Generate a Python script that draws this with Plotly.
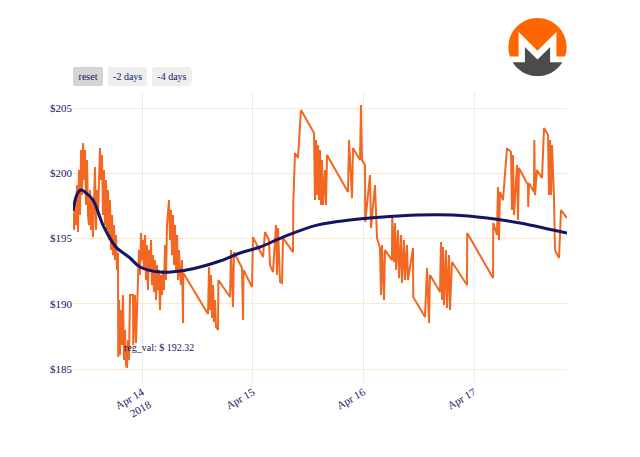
import base64
import pandas as pd
import plotly.graph_objects as go

# ---- data -------------------------------------------------------------
BASE_DATE = "2018-04-13"

# hours since BASE_DATE 00:00, Monero price in USD
price_hours = [
    9.04, 9.26, 9.47, 9.69, 9.91, 10.12, 10.34, 10.56, 10.78, 10.99, 11.21, 11.43, 11.64, 11.86,
    12.08, 12.29, 12.51, 12.73, 12.94, 13.16, 13.38, 13.59, 13.81, 14.03, 14.24, 14.46, 14.68,
    14.89, 15.11, 15.33, 15.54, 15.76, 15.98, 16.20, 16.41, 16.63, 16.85, 17.06, 17.28, 17.50,
    17.71, 17.93, 18.15, 18.36, 18.58, 18.80, 18.85,
    19.01, 19.23, 19.45, 19.66, 19.88, 20.10, 20.31, 20.53, 20.75, 20.96, 21.18, 21.40, 22.05,
    22.10, 22.48, 22.70, 22.92, 23.13, 23.35, 23.57, 23.78, 24.00, 24.22,
    24.43, 24.65, 24.87, 25.08, 25.30, 25.52, 25.73, 25.95, 26.17, 26.38, 26.60, 26.82, 27.04,
    27.25, 27.47, 27.69, 27.90, 28.12, 28.34, 28.55, 28.77, 28.99, 29.20, 29.42, 29.64, 29.85,
    30.07, 30.29, 30.50, 30.72, 30.94, 31.15, 31.37, 31.59, 31.80, 32.02, 32.24, 32.46, 32.67,
    32.89, 32.95,
    38.31, 38.53, 38.74, 38.96, 39.18, 39.39, 39.61, 39.83, 40.04, 40.48, 40.55, 43.08, 43.30,
    43.73, 43.94, 45.68, 45.90, 46.00, 47.85,
    48.06, 50.23, 50.67, 51.53, 51.75, 52.40, 53.05, 53.27, 53.49, 53.92, 54.35, 54.57, 56.74,
    56.80, 57.17, 57.82, 58.47, 61.29,
    61.51, 61.72, 61.94, 62.16, 62.37, 62.59, 62.81, 63.02, 63.24, 63.67, 63.89, 64.11, 68.66,
    68.88, 69.53, 69.74, 71.26, 71.48, 71.70, 72.35, 72.40, 73.43, 73.65, 74.51, 74.95, 75.60,
    75.81, 76.03, 76.47, 76.68, 78.20, 78.25,
    78.63, 78.85, 79.07, 79.50, 79.72, 80.15, 80.37, 80.80, 81.02, 81.45, 81.67, 82.75, 82.80,
    85.35, 85.79, 86.22, 86.44, 88.61, 88.82, 89.04, 89.26, 89.47, 89.91, 90.12, 90.56, 90.77,
    91.21, 94.46, 94.50, 100.10,
    100.15, 100.96, 101.18, 101.40, 101.61, 102.26, 103.13, 104.00, 104.21, 104.43, 104.65,
    105.30, 105.52, 105.73, 107.68, 107.73, 107.90, 108.99, 109.05, 109.20, 109.64, 110.72,
    111.16, 112.02, 112.24, 112.46, 112.67, 112.89, 113.32, 113.54, 114.41, 114.84, 116.14,
]
price_usd = [
    196.95, 195.65, 197.95, 196.03, 199.10, 195.50, 200.25, 196.80, 201.78, 198.33, 202.32, 199.48,
    201.78, 197.57, 201.01, 196.80, 196.03, 198.72, 195.65, 197.95, 195.11, 199.10, 200.48, 195.65,
    198.72, 196.80, 201.01, 201.93, 199.48, 201.40, 196.80, 200.25, 196.03, 199.48, 195.65, 198.72,
    194.88, 197.95, 194.12, 196.80, 193.73, 196.03, 193.35, 195.27, 192.59, 193.89, 185.92,
    190.29, 186.07, 189.52, 186.84, 190.67, 185.69, 187.99, 185.31, 185.08, 187.22, 185.69, 190.67,
    190.67, 186.84, 190.67, 186.99, 190.29, 191.82, 194.12, 192.20, 195.42, 193.35, 194.88,
    192.59, 195.27, 191.82, 194.50, 191.05, 194.12, 192.59, 194.88, 191.44, 193.73, 190.90, 193.35,
    190.29, 192.97, 191.05, 192.59, 189.52, 192.20, 190.67, 192.59, 191.05, 194.50, 191.82, 196.03,
    197.57, 197.95, 194.88, 197.18, 193.73, 196.80, 192.97, 196.03, 192.59, 195.27, 191.82, 194.12,
    192.36, 191.44, 193.35, 188.53, 192.36,
    189.21, 192.82, 189.52, 192.20, 188.91, 191.44, 188.60, 190.29, 188.22, 187.99, 191.82, 190.52,
    194.12, 189.75, 193.96, 192.74, 188.76, 192.59, 191.28,
    195.11, 193.58, 195.50, 194.88, 192.97, 192.43, 196.03, 192.20, 195.80, 191.67, 191.59, 195.04,
    193.96, 197.72, 201.55, 201.17, 204.85, 203.08,
    197.95, 202.55, 198.33, 202.16, 197.95, 201.78, 197.57, 201.01, 197.57, 200.25, 197.57, 201.40,
    198.56, 202.55, 198.10, 201.93, 201.01, 205.23, 201.01, 200.63, 196.26, 199.87, 195.80, 199.10,
    195.04, 194.27, 190.67, 194.50, 190.29, 194.12, 193.35, 196.80,
    193.20, 196.19, 192.59, 195.65, 191.97, 195.27, 191.59, 194.88, 191.82, 194.50, 191.82, 194.27,
    190.52, 188.98, 192.74, 188.53, 192.20, 190.90, 194.73, 190.29, 194.35, 189.90, 194.12, 189.67,
    193.73, 189.52, 193.20, 191.44, 195.42, 191.97,
    196.19, 195.27, 198.95, 194.88, 198.56, 197.95, 201.93, 201.63, 197.18, 201.40, 196.80, 200.63,
    196.42, 200.40, 199.10, 197.41, 199.25, 198.56, 202.55, 198.33, 200.25, 199.64, 203.47, 202.93,
    198.33, 202.55, 198.33, 202.16, 198.10, 194.12, 193.51, 197.18, 196.57,
]

# regression curve
reg_hours = [9.04, 9.69, 10.34, 10.99, 11.86, 13.38, 15.54, 17.71, 18.58, 21.40, 23.57, 27.90,
             32.24, 36.57, 40.91, 45.25, 49.58, 54.57, 61.94, 69.09, 76.25, 83.62, 91.42, 98.80,
             105.95, 113.10, 116.14]
reg_usd = [197.11, 198.18, 198.64, 198.71, 198.49, 197.95, 196.03, 194.65, 194.27, 193.51, 192.82,
           192.43, 192.51, 192.82, 193.28, 193.89, 194.35, 195.11, 196.03, 196.42, 196.65, 196.80,
           196.80, 196.57, 196.19, 195.65, 195.42]

reg_label_hour = 27.69
reg_label_usd = 186.68
reg_label_text = "reg_val: $ 192.32"

y_ticks = [185, 190, 195, 200, 205]
y_tick_labels = ["$185", "$190", "$195", "$200", "$205"]

# ---- figure -----------------------------------------------------------
base = pd.Timestamp(BASE_DATE)
price_t = base + pd.to_timedelta(price_hours, unit="h")
reg_t = base + pd.to_timedelta(reg_hours, unit="h")

NAVY = "#141466"
ORANGE = "#F26822"
FONT = "Liberation Serif, Times New Roman, serif"

fig = go.Figure()
fig.add_trace(go.Scatter(x=price_t, y=price_usd, mode="lines",
                         line=dict(color=ORANGE, width=2), name="XMR", showlegend=False))
fig.add_trace(go.Scatter(x=reg_t, y=reg_usd, mode="lines",
                         line=dict(color=NAVY, width=3, shape="spline"),
                         name="regression", showlegend=False))

fig.add_annotation(x=base + pd.Timedelta(hours=reg_label_hour), y=reg_label_usd,
                   text=reg_label_text, showarrow=False,
                   font=dict(family=FONT, size=10, color=NAVY))

svg = ('<svg xmlns="http://www.w3.org/2000/svg" viewBox="0 0 256 256">'
       '<path fill="#FF6600" d="M127.998 0C57.318 0 0 57.317 0 127.993c0 14.127 2.29 27.716 '
       '6.518 40.43H44.8V60.733l83.2 83.198 83.197-83.2v107.69h38.285c4.236-12.71 6.518-26.3 '
       '6.518-40.427C256 57.317 198.681 0 127.998 0"/>'
       '<path fill="#4C4C4C" d="M108.867 163.062l-36.31-36.311v67.765H18.623c22.47 36.863 '
       '63.051 61.48 109.373 61.48s86.907-24.617 109.374-61.48h-53.933V126.75l-36.31 '
       '36.31-19.13 19.129-19.128-19.128h-.002z"/></svg>')
logo_src = "data:image/svg+xml;base64," + base64.b64encode(svg.encode()).decode()
fig.add_layout_image(source=logo_src, xref="paper", yref="paper", x=1.0, y=1.254,
                     sizex=0.1194, sizey=0.2, xanchor="right", yanchor="top",
                     sizing="contain", layer="above")

fig.update_layout(
    width=640, height=457,
    margin=dict(l=65, r=81, t=84, b=82),
    paper_bgcolor="white", plot_bgcolor="white",
    font=dict(family=FONT, size=11, color=NAVY),
    showlegend=False,
    xaxis=dict(
        autorange=True, tickangle=-30, showgrid=True, gridcolor="#EBEBEB",
        zeroline=False, showline=False,
        tickfont=dict(family=FONT, size=11, color=NAVY),
        rangeselector=dict(
            buttons=[
                dict(label="reset", step="all"),
                dict(label="-2 days", count=2, step="day", stepmode="backward"),
                dict(label="-4 days", count=4, step="day", stepmode="backward"),
            ],
            font=dict(family=FONT, size=10, color=NAVY),
        ),
    ),
    yaxis=dict(
        range=[183.93, 206.23], tickvals=y_ticks, ticktext=y_tick_labels,
        showgrid=True, gridcolor="#FFE6CC", zeroline=False, showline=False,
        tickfont=dict(family=FONT, size=11, color=NAVY),
    ),
)

fig.write_html("out.html")
